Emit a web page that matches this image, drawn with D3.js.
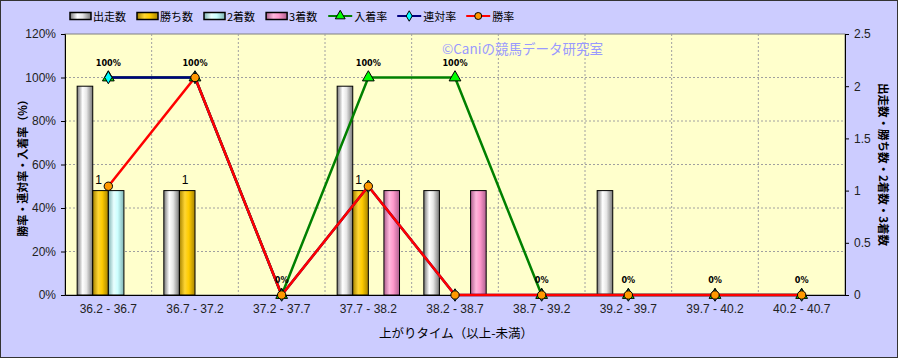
<!DOCTYPE html>
<html>
<head>
<meta charset="utf-8">
<script src="https://cdn.jsdelivr.net/npm/d3@7"></script>
<style>
  body { margin: 0; background: #fff; }
  svg { display: block; font-family: "Noto Sans CJK JP", "DejaVu Sans", sans-serif; }
</style>
</head>
<body>
<div id="chart"></div>
<script>
// categories and series
var categories = ["36.2 - 36.7", "36.7 - 37.2", "37.2 - 37.7", "37.7 - 38.2", "38.2 - 38.7",
                  "38.7 - 39.2", "39.2 - 39.7", "39.7 - 40.2", "40.2 - 40.7"];
var runs   = [2, 1, 0, 2, 1, 0, 1, 0, 0];   // 出走数
var wins   = [1, 1, 0, 1, 0, 0, 0, 0, 0];   // 勝ち数
var second = [1, 0, 0, 0, 0, 0, 0, 0, 0];   // 2着数
var third  = [0, 0, 0, 1, 1, 0, 0, 0, 0];   // 3着数
var placeRate = [100, 100, 0, 100, 100, 0, 0, 0, 0]; // 入着率
var rentaiRate = [100, 100, 0, 50, 0, 0, 0, 0, 0];   // 連対率
var winRate   = [50, 100, 0, 50, 0, 0, 0, 0, 0];     // 勝率
var leftTicks = [0, 20, 40, 60, 80, 100, 120];
var rightTicks = [0, 0.5, 1, 1.5, 2, 2.5];

var W = 898, H = 358;
var margin = {top: 34, right: 53, bottom: 63, left: 65};
var width = W - margin.left - margin.right,
    height = H - margin.top - margin.bottom;

var svg = d3.select("#chart").append("svg")
    .attr("width", W).attr("height", H);

// background + frame
svg.append("rect").attr("x", 0.5).attr("y", 0.5).attr("width", W - 1).attr("height", H - 1)
    .attr("fill", "#ccccff").attr("stroke", "#333").attr("stroke-width", 1);

var defs = svg.append("defs");
function cylinder(id, edge, mid, light) {
    var g = defs.append("linearGradient").attr("id", id)
        .attr("x1", "0%").attr("x2", "100%").attr("y1", "0%").attr("y2", "0%");
    g.append("stop").attr("offset", "0%").attr("stop-color", edge);
    g.append("stop").attr("offset", "35%").attr("stop-color", light);
    g.append("stop").attr("offset", "60%").attr("stop-color", mid);
    g.append("stop").attr("offset", "100%").attr("stop-color", edge);
}
cylinder("gRun", "#777", "#e6e6e6", "#ffffff");
cylinder("gWin", "#a88400", "#ffcc00", "#ffd633");
cylinder("g2nd", "#7fb3b3", "#ccffff", "#e8ffff");
cylinder("g3rd", "#b06090", "#ff99cc", "#ffb8dd");

var g = svg.append("g").attr("transform", "translate(" + margin.left + "," + margin.top + ")");

g.append("rect").attr("width", width).attr("height", height)
    .attr("fill", "#ffffcc").attr("stroke", "#808080");

var x = d3.scaleBand().domain(categories).range([0, width]);
var yL = d3.scaleLinear().domain([0, 120]).range([height, 0]);
var yR = d3.scaleLinear().domain([0, 2.5]).range([height, 0]);

// grid
g.selectAll(".hgrid").data(leftTicks.slice(1, -1)).enter().append("line")
    .attr("x1", 0).attr("x2", width)
    .attr("y1", function(d) { return yL(d); }).attr("y2", function(d) { return yL(d); })
    .attr("stroke", "#a0a0a0").attr("stroke-dasharray", "2,2");
g.selectAll(".vgrid").data(categories.slice(1)).enter().append("line")
    .attr("x1", function(d) { return x(d); }).attr("x2", function(d) { return x(d); })
    .attr("y1", 0).attr("y2", height)
    .attr("stroke", "#a0a0a0").attr("stroke-dasharray", "2,2");

// watermark
g.append("text").attr("x", 377).attr("y", 20)
    .attr("fill", "#9999ff").style("font-size", "13.5px")
    .text("©Caniの競馬データ研究室");

// bars
var barSeries = [
    {name: "出走数", values: runs, fill: "url(#gRun)"},
    {name: "勝ち数", values: wins, fill: "url(#gWin)"},
    {name: "2着数", values: second, fill: "url(#g2nd)"},
    {name: "3着数", values: third, fill: "url(#g3rd)"}
];
var inner = d3.scaleBand().domain(d3.range(barSeries.length))
    .range([0, x.bandwidth()]).paddingOuter(0.78);
inner.paddingInner(0);
var bw = inner.bandwidth();

barSeries.forEach(function(s, si) {
    g.selectAll(".bar" + si).data(s.values.map(function(v, i) { return {v: v, c: categories[i]}; })
            .filter(function(d) { return d.v > 0; }))
        .enter().append("rect")
        .attr("x", function(d) { return x(d.c) + inner(si); })
        .attr("y", function(d) { return yR(d.v); })
        .attr("width", bw)
        .attr("height", function(d) { return height - yR(d.v); })
        .attr("fill", s.fill).attr("stroke", "#000").attr("stroke-width", 1);
});

// 勝ち数 labels
g.selectAll(".winLabel").data(wins.map(function(v, i) { return {v: v, c: categories[i]}; })
        .filter(function(d) { return d.v > 0; }))
    .enter().append("text")
    .attr("x", function(d) { return x(d.c) + inner(1) + bw / 2 - 2; })
    .attr("y", function(d) { return yR(d.v) - 7; })
    .attr("text-anchor", "middle").style("font-size", "12px")
    .style("font-family", "'Liberation Sans', Arial, sans-serif")
    .text(function(d) { return d.v; });

// axes
var axL = d3.axisLeft(yL).tickValues(leftTicks).tickSize(4).tickFormat(function(d) { return d + "%"; });
var axR = d3.axisRight(yR).tickValues(rightTicks).tickSize(4).tickFormat(d3.format("~g"));
var axB = d3.axisBottom(x).tickSize(0).tickPadding(9);

function styleAxis(sel) {
    sel.select(".domain").attr("stroke", "#000");
    sel.selectAll(".tick line").attr("stroke", "#000");
    sel.selectAll("text").style("font-size", "12px").attr("fill", "#222")
        .style("font-family", "'Liberation Sans', Arial, sans-serif");
}
g.append("g").call(axL).call(styleAxis).selectAll("text").attr("x", -9);
g.append("g").attr("transform", "translate(" + width + ",0)").call(axR).call(styleAxis)
    .selectAll("text").attr("x", 9);
g.append("g").attr("transform", "translate(0," + height + ")").call(axB).call(styleAxis);

// lines
var cx = function(i) { return x(categories[i]) + x.bandwidth() / 2; };
var lineSeries = [
    {name: "入着率", values: placeRate, stroke: "#008000", fill: "#00ff00", marker: d3.symbolTriangle, size: 60},
    {name: "連対率", values: rentaiRate, stroke: "#000080", fill: "#00ffff", marker: d3.symbolDiamond, size: 45},
    {name: "勝率", values: winRate, stroke: "#ff0000", fill: "#ff9900", marker: d3.symbolCircle, size: 55}
];
var line = d3.line().x(function(d, i) { return cx(i); }).y(function(d) { return yL(d); });

lineSeries.forEach(function(s) {
    g.append("path").datum(s.values)
        .attr("d", line).attr("fill", "none")
        .attr("stroke", s.stroke).attr("stroke-width", 2.5);
});
lineSeries.forEach(function(s) {
    g.selectAll(null).data(s.values).enter().append("path")
        .attr("transform", function(d, i) { return "translate(" + cx(i) + "," + yL(d) + ")"; })
        .attr("d", d3.symbol().type(s.marker).size(s.size))
        .attr("fill", s.fill).attr("stroke", "#000").attr("stroke-width", 1);
});

// 入着率 labels
g.selectAll(".rateLabel").data(placeRate).enter().append("text")
    .attr("x", function(d, i) { return cx(i); })
    .attr("y", function(d) { return yL(d) - 12; })
    .attr("text-anchor", "middle")
    .style("font-size", "9px").style("font-weight", "bold")
    .style("font-family", "'DejaVu Sans Condensed', 'DejaVu Sans', sans-serif")
    .text(function(d) { return d + "%"; });

// axis titles
svg.append("text")
    .attr("transform", "translate(27," + (margin.top + height / 2 + 1) + ") rotate(-90)")
    .attr("text-anchor", "middle").style("font-size", "11px").style("font-weight", "bold")
    .text("勝率・連対率・入着率（%）");
svg.append("text")
    .attr("transform", "translate(879," + (margin.top + height / 2) + ") rotate(90)")
    .attr("text-anchor", "middle").style("font-size", "11.5px").style("font-weight", "bold")
    .text("出走数・勝ち数・2着数・3着数");
svg.append("text")
    .attr("x", margin.left + width / 2 + 1).attr("y", 338)
    .attr("text-anchor", "middle").style("font-size", "12.5px")
    .text("上がりタイム（以上-未満）");

// legend
var legend = svg.append("g").attr("transform", "translate(70,16)");
var lx = 0;
barSeries.forEach(function(s) {
    legend.append("rect").attr("x", lx).attr("y", -3.5).attr("width", 21).attr("height", 7)
        .attr("fill", s.fill).attr("stroke", "#000").attr("stroke-width", 1.5);
    var t = legend.append("text").attr("x", lx + 23).attr("y", 4.5)
        .style("font-size", "11px").text(s.name);
    lx += 23 + t.node().getComputedTextLength() + 11;
});
lineSeries.forEach(function(s) {
    legend.append("line").attr("x1", lx).attr("x2", lx + 24)
        .attr("stroke", s.stroke).attr("stroke-width", 2);
    legend.append("path").attr("transform", "translate(" + (lx + 12) + ",0)")
        .attr("d", d3.symbol().type(s.marker).size(s.size * 0.7))
        .attr("fill", s.fill).attr("stroke", "#000");
    var t = legend.append("text").attr("x", lx + 26).attr("y", 4.5)
        .style("font-size", "11px").text(s.name);
    lx += 26 + t.node().getComputedTextLength() + 10;
});
</script>
</body>
</html>
